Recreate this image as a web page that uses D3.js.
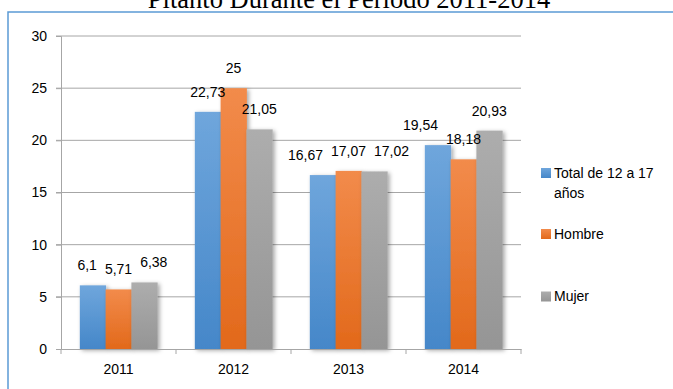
<!DOCTYPE html>
<html lang="es">
<head>
  <meta charset="UTF-8">
  <title>Periodo 2011-2014</title>
  <style>
    body { margin: 0; background: #fff; }
    svg { display: block; }
    .axis text { font-family: "Liberation Sans", Arial, sans-serif; font-size: 14px; fill: #000; }
  </style>
</head>
<body>
  <div id="chart"></div>
  <script src="https://d3js.org/d3.v7.min.js"></script>
  <script>
    // datos
    const years = ["2011", "2012", "2013", "2014"];
    const seriesNames = ["Total de 12 a 17 años", "Hombre", "Mujer"];
    const total = [6.1, 22.73, 16.67, 19.54];
    const hombre = [5.71, 25, 17.07, 18.18];
    const mujer = [6.38, 21.05, 17.02, 20.93];
    const yTicks = [0, 5, 10, 15, 20, 25, 30];

    const series = [total, hombre, mujer];
    const colors = [
      ["#6fa6dc", "#4587c9"],
      ["#f28b4b", "#e2691b"],
      ["#adadad", "#959595"]
    ];

    const width = 673, height = 389;
    const margin = { left: 61, right: 152, top: 36, bottom: 40 };
    const font = "'Liberation Sans', Arial, sans-serif";

    const svg = d3.select("#chart").append("svg")
      .attr("width", width).attr("height", height);

    const defs = svg.append("defs");
    colors.forEach((c, i) => {
      const g = defs.append("linearGradient").attr("id", "grad" + i)
        .attr("x1", 0).attr("y1", 0).attr("x2", 0).attr("y2", 1);
      g.append("stop").attr("offset", "0%").attr("stop-color", c[0]);
      g.append("stop").attr("offset", "100%").attr("stop-color", c[1]);
    });
    const shadow = defs.append("filter").attr("id", "shadow")
      .attr("x", "-20%").attr("y", "-20%").attr("width", "160%").attr("height", "140%");
    shadow.append("feDropShadow").attr("dx", 2).attr("dy", 1.5)
      .attr("stdDeviation", 2).attr("flood-color", "#000").attr("flood-opacity", 0.35);

    // título (cortado arriba)
    svg.append("text")
      .attr("x", 349).attr("y", 8)
      .attr("text-anchor", "middle")
      .style("font-family", "'Liberation Serif', 'Times New Roman', serif")
      .style("font-size", "26.5px")
      .text("Pitanto Durante el Periodo 2011-2014");

    // marco del gráfico
    svg.append("path")
      .attr("d", "M8,389 V12 H673")
      .attr("fill", "none").attr("stroke", "#5b9bd5").attr("stroke-width", 1.5);

    const x = d3.scaleBand().domain(years)
      .range([margin.left, width - margin.right]);
    const y = d3.scaleLinear().domain([0, 30])
      .range([height - margin.bottom, margin.top]);

    // líneas de cuadrícula
    svg.append("g").selectAll("line").data(yTicks.filter(d => d > 0)).join("line")
      .attr("x1", margin.left - 5).attr("x2", width - margin.right)
      .attr("y1", d => y(d)).attr("y2", d => y(d))
      .attr("stroke", "#a6a6a6").attr("stroke-width", 1);

    // eje y
    const yAxis = svg.append("g").attr("class", "axis")
      .attr("transform", `translate(${margin.left},0)`)
      .call(d3.axisLeft(y).tickValues(yTicks).tickSize(5).tickPadding(9).tickFormat(d3.format("d")));
    yAxis.select(".domain").attr("stroke", "#a6a6a6");
    yAxis.selectAll(".tick line").attr("stroke", "#a6a6a6");

    const inner = d3.scaleBand().domain(d3.range(series.length))
      .range([0, x.bandwidth()]).paddingOuter(0.73).paddingInner(0);
    const bw = inner.bandwidth();

    const fmt = v => String(v).replace(".", ",");

    const groups = svg.append("g").selectAll("g").data(years).join("g")
      .attr("transform", d => `translate(${x(d)},0)`);

    groups.each(function (yr, i) {
      const g = d3.select(this);
      const vals = series.map((s, k) => ({ k, v: s[i] }));
      g.selectAll("rect").data(vals).join("rect")
        .attr("x", d => inner(d.k))
        .attr("y", d => y(d.v))
        .attr("width", bw + 0.5)
        .attr("height", d => y(0) - y(d.v))
        .attr("fill", d => `url(#grad${d.k})`)
        .attr("filter", "url(#shadow)");
      const labels = g.selectAll("text").data(vals).join("text")
        .attr("y", d => y(d.v) - 15)
        .attr("text-anchor", "middle")
        .style("font-family", font)
        .style("font-size", "14px")
        .text(d => fmt(d.v));

      // separar etiquetas que se solapan (como Excel)
      const lab = vals.map((d, k) => ({
        cx: inner(k) + bw / 2,
        cy: y(d.v) - 15,
        w: labels.nodes()[k].getComputedTextLength()
      }));
      const gap = 8, hgt = 16;
      const m = lab[1];
      const l = lab[0], r = lab[2];
      if (Math.abs(l.cy - m.cy) < hgt && l.cx + l.w / 2 + gap > m.cx - m.w / 2) {
        l.cx = m.cx - m.w / 2 - gap - l.w / 2;
      }
      if (Math.abs(r.cy - m.cy) < hgt && r.cx - r.w / 2 - gap < m.cx + m.w / 2) {
        r.cx = m.cx + m.w / 2 + gap + r.w / 2;
      }
      labels.attr("x", (d, k) => lab[k].cx);
    });

    // eje x
    const xAxis = svg.append("g").attr("class", "axis")
      .attr("transform", `translate(0,${y(0)})`)
      .call(d3.axisBottom(x).tickSize(0).tickPadding(15));
    xAxis.select(".domain").attr("stroke", "#a6a6a6");
    xAxis.append("g").selectAll("line").data(years.concat("end")).join("line")
      .attr("x1", (d, i) => margin.left + i * x.step())
      .attr("x2", (d, i) => margin.left + i * x.step())
      .attr("y1", 0).attr("y2", 5)
      .attr("stroke", "#a6a6a6");

    // leyenda
    const legendY = [172.5, 233.5, 296];
    const legend = svg.append("g").attr("transform", "translate(541,0)");
    seriesNames.forEach((name, i) => {
      legend.append("rect").attr("x", 0).attr("y", legendY[i] - 4.5)
        .attr("width", 10).attr("height", 10).attr("fill", `url(#grad${i})`);
      const t = legend.append("text").attr("x", 13).attr("y", legendY[i] + 5)
        .style("font-family", font)
        .style("font-size", "14px");
      if (i === 0) {
        t.append("tspan").text("Total de 12 a 17");
        t.append("tspan").attr("x", 13).attr("dy", 20).text("años");
      } else {
        t.text(name);
      }
    });
  </script>
</body>
</html>
